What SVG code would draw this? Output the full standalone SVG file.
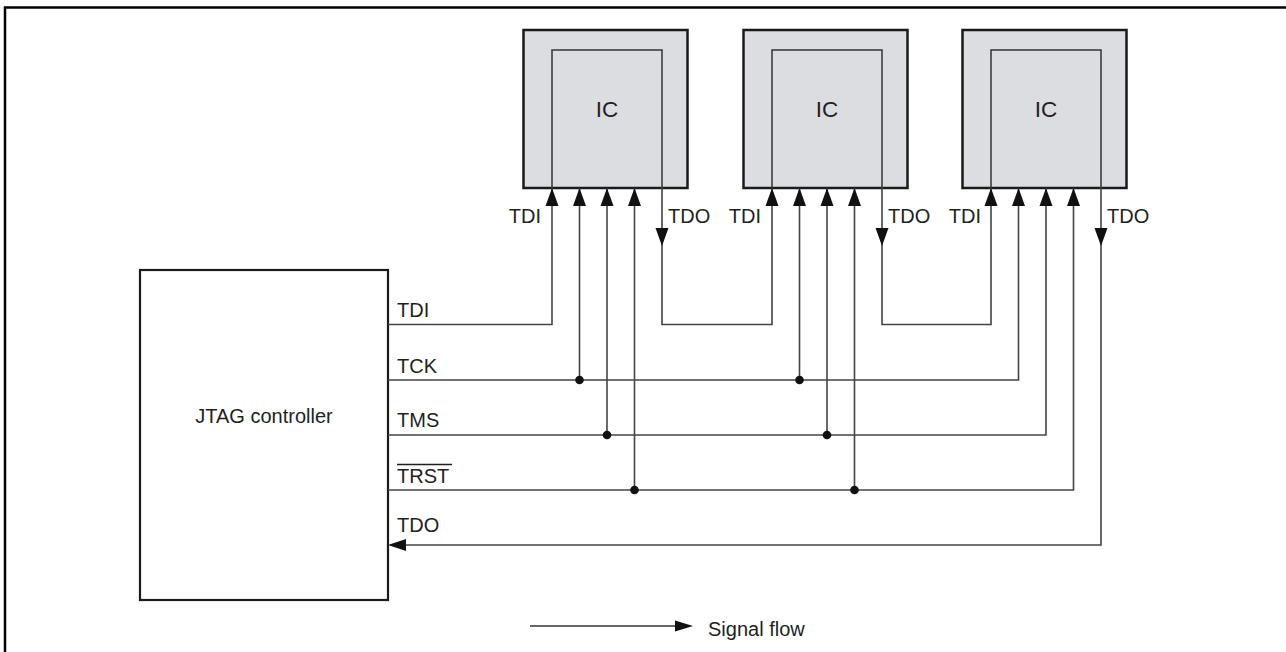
<svg xmlns="http://www.w3.org/2000/svg" width="1286" height="652" viewBox="0 0 1286 652">
<style>
text{font-family:"Liberation Sans",Arial,sans-serif;fill:#231f20}
.lbl{font-size:20px}
.ic{font-size:22.5px}
.box{fill:#dcdde0;stroke:#1a1a1a;stroke-width:2.5}
.inner{fill:none;stroke:#333;stroke-width:1.5}
.w{fill:none;stroke:#444;stroke-width:1.6}
.ah{fill:#111}
.dot{fill:#111}
</style>
<defs>
<path id="up" d="M0,0 L6.5,18 L-6.5,18 Z"/>
<path id="dn" d="M0,0 L6.5,-18 L-6.5,-18 Z"/>
</defs>
<rect x="0" y="0" width="1286" height="652" fill="#fff"/>
<path d="M5,652 V7.5 H1286" fill="none" stroke="#000" stroke-width="2.5"/>

<g id="jtag">
<rect x="140" y="270" width="248" height="330" fill="#fff" stroke="#1a1a1a" stroke-width="2.2"/>
<text x="264" y="423" class="lbl" text-anchor="middle">JTAG controller</text>
</g>

<g id="ic1">
<rect class="box" x="523.5" y="30" width="164" height="158"/>
<text class="ic" x="607" y="117" text-anchor="middle">IC</text>
</g>
<g id="ic2">
<rect class="box" x="743.5" y="30" width="164" height="158"/>
<text class="ic" x="827" y="117" text-anchor="middle">IC</text>
</g>
<g id="ic3">
<rect class="box" x="962.5" y="30" width="164" height="158"/>
<text class="ic" x="1046" y="117" text-anchor="middle">IC</text>
</g>

<g id="connectors">
<path class="inner" d="M552,188 V50 H662 V188"/>
<path class="inner" d="M772,188 V50 H882 V188"/>
<path class="inner" d="M991,188 V50 H1101 V188"/>
<path class="w" d="M388,324.5 H552 V188"/>
<path class="w" d="M662,188 V324.5 H772 V188"/>
<path class="w" d="M882,188 V324.5 H991 V188"/>
<path class="w" d="M388,380 H1018.5 V188"/>
<path class="w" d="M579.5,188 V380"/>
<path class="w" d="M799.5,188 V380"/>
<path class="w" d="M388,435 H1046 V188"/>
<path class="w" d="M607,188 V435"/>
<path class="w" d="M827,188 V435"/>
<path class="w" d="M388,490 H1073.5 V188"/>
<path class="w" d="M634.5,188 V490"/>
<path class="w" d="M854.5,188 V490"/>
<path class="w" d="M1101,188 V545 H400"/>
<path class="ah" d="M388,545 L406,539 L406,551 Z"/>
<circle class="dot" cx="579.5" cy="380" r="4.3"/>
<circle class="dot" cx="799.5" cy="380" r="4.3"/>
<circle class="dot" cx="607" cy="435" r="4.3"/>
<circle class="dot" cx="827" cy="435" r="4.3"/>
<circle class="dot" cx="634.5" cy="490" r="4.3"/>
<circle class="dot" cx="854.5" cy="490" r="4.3"/>
<use href="#up" class="ah" x="552" y="188"/>
<use href="#up" class="ah" x="579.5" y="188"/>
<use href="#up" class="ah" x="607" y="188"/>
<use href="#up" class="ah" x="634.5" y="188"/>
<use href="#dn" class="ah" x="662" y="246"/>
<use href="#up" class="ah" x="772" y="188"/>
<use href="#up" class="ah" x="799.5" y="188"/>
<use href="#up" class="ah" x="827" y="188"/>
<use href="#up" class="ah" x="854.5" y="188"/>
<use href="#dn" class="ah" x="882" y="246"/>
<use href="#up" class="ah" x="991" y="188"/>
<use href="#up" class="ah" x="1018.5" y="188"/>
<use href="#up" class="ah" x="1046" y="188"/>
<use href="#up" class="ah" x="1073.5" y="188"/>
<use href="#dn" class="ah" x="1101" y="246"/>
</g>

<g id="labels">
<text class="lbl" x="541" y="223" text-anchor="end">TDI</text>
<text class="lbl" x="668" y="223">TDO</text>
<text class="lbl" x="761" y="223" text-anchor="end">TDI</text>
<text class="lbl" x="888" y="223">TDO</text>
<text class="lbl" x="981" y="223" text-anchor="end">TDI</text>
<text class="lbl" x="1107" y="223">TDO</text>
<text class="lbl" x="397" y="316.5">TDI</text>
<text class="lbl" x="397" y="373">TCK</text>
<text class="lbl" x="397" y="427">TMS</text>
<text class="lbl" x="397" y="483">TRST</text>
<line x1="397" y1="464.5" x2="452" y2="464.5" stroke="#231f20" stroke-width="1.3"/>
<text class="lbl" x="397" y="532">TDO</text>
</g>

<g id="legend">
<line x1="530" y1="626" x2="680" y2="626" stroke="#333" stroke-width="1.5"/>
<path class="ah" d="M693,626 L675,620.5 L675,631.5 Z"/>
<text class="lbl" x="708" y="636">Signal flow</text>
</g>
</svg>
